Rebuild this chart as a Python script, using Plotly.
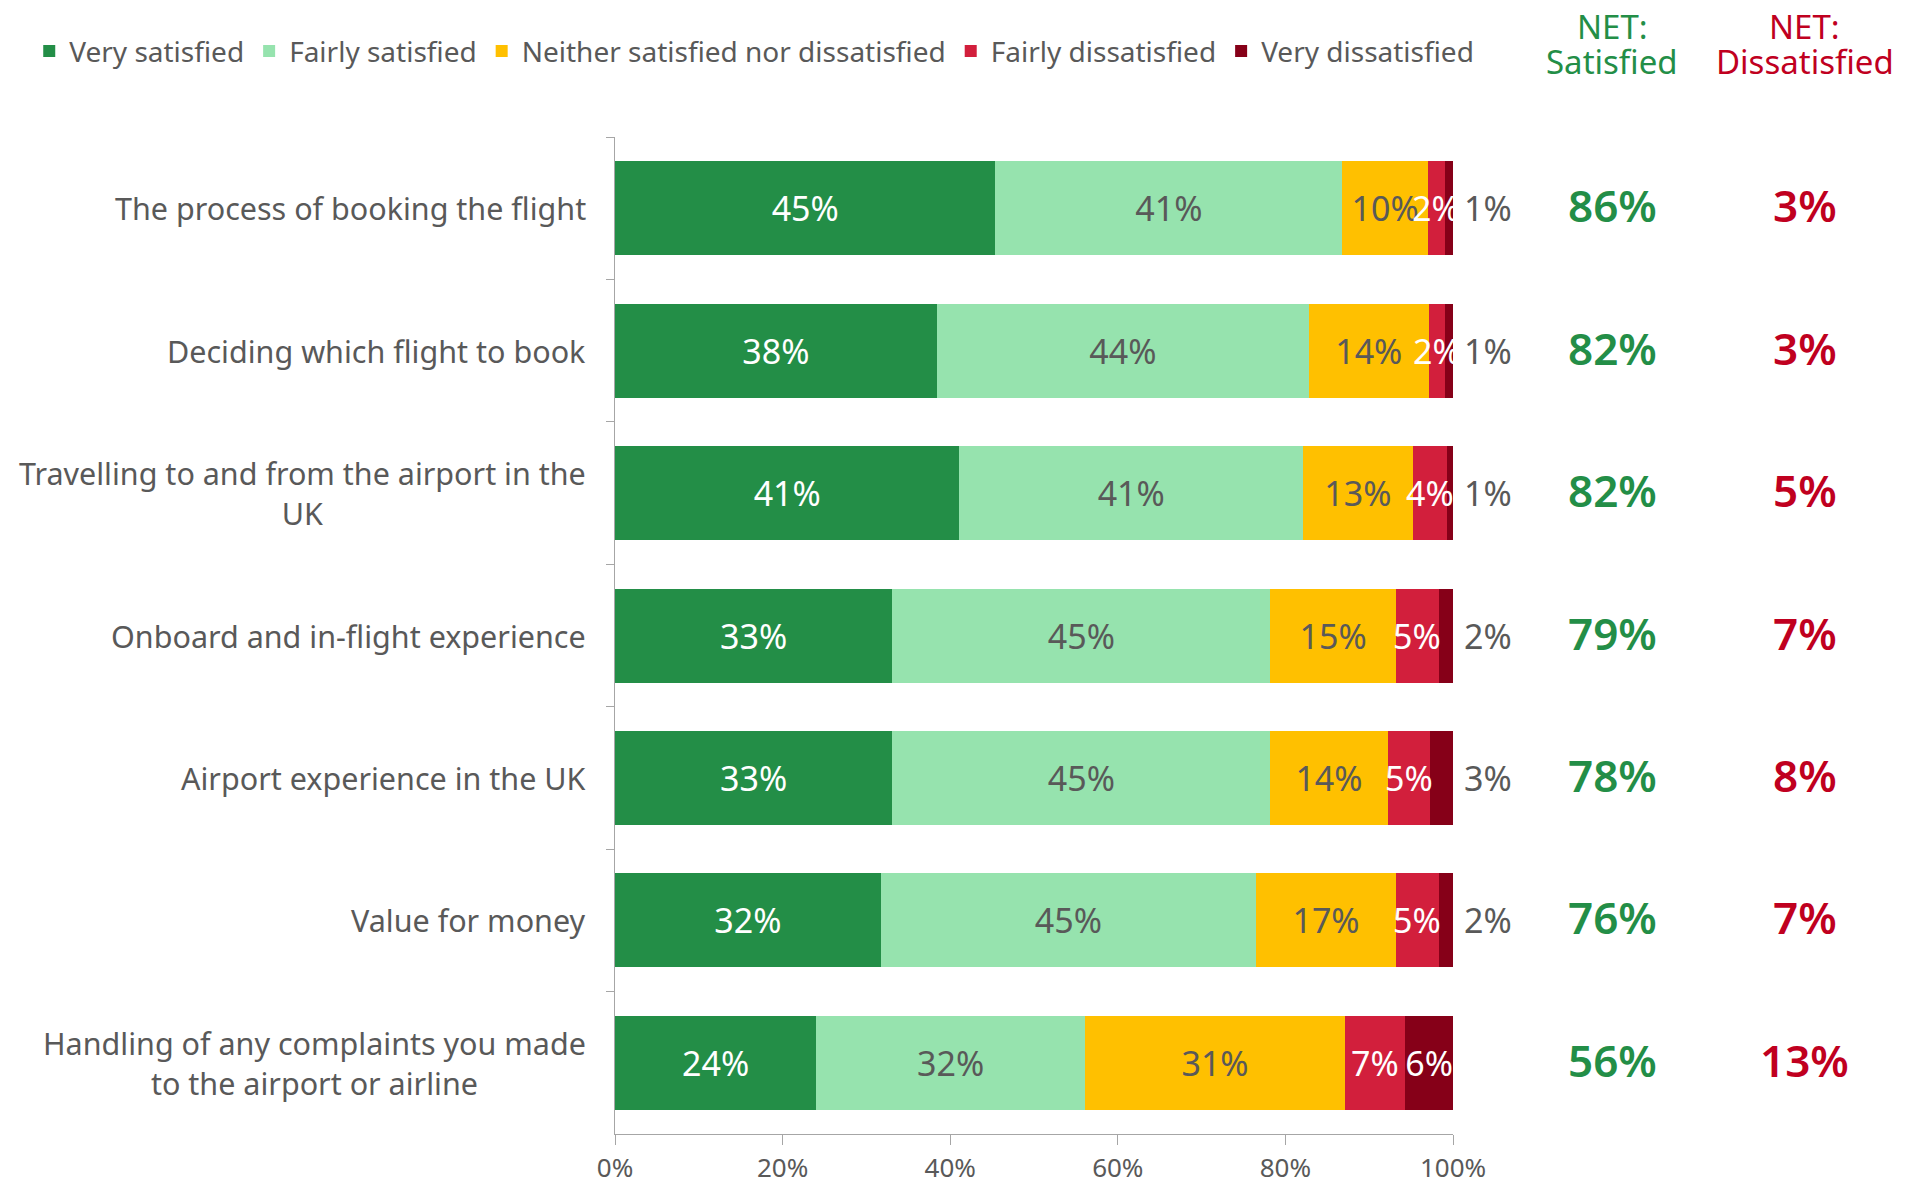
import plotly.graph_objects as go

# Дані (у відсотках)
categories = [
    "The process of booking the flight",
    "Deciding which flight to book",
    "Travelling to and from the airport in the<br>UK",
    "Onboard and in-flight experience",
    "Airport experience in the UK",
    "Value for money",
    "Handling of any complaints you made<br>to the airport or airline",
]
very_satisfied = [45.4, 38.4, 41.1, 33.1, 33.1, 31.7, 24.0]
fairly_satisfied = [41.4, 44.4, 41.0, 45.1, 45.1, 44.8, 32.1]
neither = [10.2, 14.3, 13.1, 15.0, 14.0, 16.7, 31.0]
fairly_dissatisfied = [2.0, 2.0, 4.1, 5.1, 5.0, 5.1, 7.2]
very_dissatisfied = [1.0, 0.9, 0.7, 1.7, 2.8, 1.7, 5.7]
net_satisfied = [86, 82, 82, 79, 78, 76, 56]
net_dissatisfied = [3, 3, 5, 7, 8, 7, 13]
x_ticks = [0, 20, 40, 60, 80, 100]

GREEN = "#238e47"
RED_TXT = "#c0001f"
GREY = "#595959"
FONT = "Noto Sans"

series = [
    ("Very satisfied", very_satisfied, "#238e47", "white"),
    ("Fairly satisfied", fairly_satisfied, "#96e3ae", GREY),
    ("Neither satisfied nor dissatisfied", neither, "#ffc000", GREY),
    ("Fairly dissatisfied", fairly_dissatisfied, "#d21f3c", "white"),
    ("Very dissatisfied", very_dissatisfied, "#860018", "white"),
]

fig = go.Figure()
for k, (name, vals, color, txtcol) in enumerate(series):
    labels = [f"{round(v)}%" for v in vals]
    if k == 3:
        # підписи цього сегмента ставимо анотаціями (щоб лежали поверх)
        labels = None
    if k == 4:
        # тільки останній рядок має підпис всередині смуги
        labels = [""] * (len(vals) - 1) + [labels[-1]]
    fig.add_trace(go.Bar(
        y=categories, x=vals, name=name, orientation="h",
        marker=dict(color=color, line=dict(width=0)),
        text=labels, textposition="inside", insidetextanchor="middle",
        textangle=0,
        textfont=dict(color=txtcol, size=34, family=FONT),
        cliponaxis=False, constraintext="none",
    ))

annotations = []
rows = zip(categories, very_satisfied, fairly_satisfied, neither,
           fairly_dissatisfied, very_dissatisfied)
for i, (c, a, b, n, f, v) in enumerate(rows):
    # "Fairly dissatisfied" поверх усіх смуг
    annotations.append(dict(
        x=a + b + n + f / 2, xref="x", y=c, yref="y", xanchor="center",
        text=f"{round(f)}%", showarrow=False,
        font=dict(size=34, color="white", family=FONT),
    ))
    # "Very dissatisfied" праворуч від смуги
    if i < len(categories) - 1:
        annotations.append(dict(
            x=a + b + n + f + v, xref="x", y=c, yref="y", xanchor="left",
            xshift=9, text=f"{round(v)}%", showarrow=False,
            font=dict(size=34, color=GREY, family=FONT),
        ))
# підписи категорій (по центру для двох рядків)
for c in categories:
    annotations.append(dict(
        x=0, xref="paper", y=c, yref="y", xanchor="right", xshift=-27,
        text=c, showarrow=False, align="center",
        font=dict(size=30.5, color=GREY, family=FONT),
    ))
# NET колонки
for c, s, d in zip(categories, net_satisfied, net_dissatisfied):
    annotations.append(dict(
        x=1.19, xref="paper", y=c, yref="y", xanchor="center", yshift=3,
        text=f"{s}%", showarrow=False,
        font=dict(size=44, color=GREEN, family=FONT, weight=600),
    ))
    annotations.append(dict(
        x=1.42, xref="paper", y=c, yref="y", xanchor="center", yshift=3,
        text=f"{d}%", showarrow=False,
        font=dict(size=44, color=RED_TXT, family=FONT, weight=600),
    ))
# заголовки NET (кожен рядок окремо, щоб стиснути міжрядковий інтервал)
for xpos, word, col in [(1.19, "Satisfied", GREEN), (1.42, "Dissatisfied", RED_TXT)]:
    annotations.append(dict(
        x=xpos, xref="paper", y=1.1113, yref="paper", xanchor="center", yanchor="middle",
        text="NET:", showarrow=False, font=dict(size=33, color=col, family=FONT),
    ))
    annotations.append(dict(
        x=xpos, xref="paper", y=1.0762, yref="paper", xanchor="center", yanchor="middle",
        text=word, showarrow=False, font=dict(size=33, color=col, family=FONT),
    ))

fig.update_layout(
    barmode="stack",
    bargap=0.34,
    width=1908, height=1186,
    margin=dict(l=607, r=463, t=129, b=60),
    plot_bgcolor="white", paper_bgcolor="white",
    font=dict(family=FONT, color=GREY),
    uniformtext=dict(mode="show", minsize=34),
    showlegend=True,
    legend=dict(
        orientation="h", x=-0.699, y=1.086, xanchor="left", yanchor="middle",
        font=dict(size=28, color=GREY, family=FONT),
        traceorder="normal",
    ),
    xaxis=dict(
        range=[0, 100], tickvals=x_ticks, ticktext=[f"{t}%" for t in x_ticks],
        showgrid=False, zeroline=False, showline=True, linecolor="#a6a6a6",
        ticks="outside", ticklen=10, tickcolor="#a6a6a6",
        tickfont=dict(size=26, color=GREY, family=FONT),
        ticklabelstandoff=1, automargin=False,
    ),
    yaxis=dict(
        range=[6.5, -0.5], showticklabels=False, showgrid=False,
        showline=True, linecolor="#a6a6a6", automargin=False,
        ticks="outside", tickson="boundaries", ticklen=8, tickcolor="#a6a6a6",
    ),
    annotations=annotations,
)

fig.write_html("out.html")
